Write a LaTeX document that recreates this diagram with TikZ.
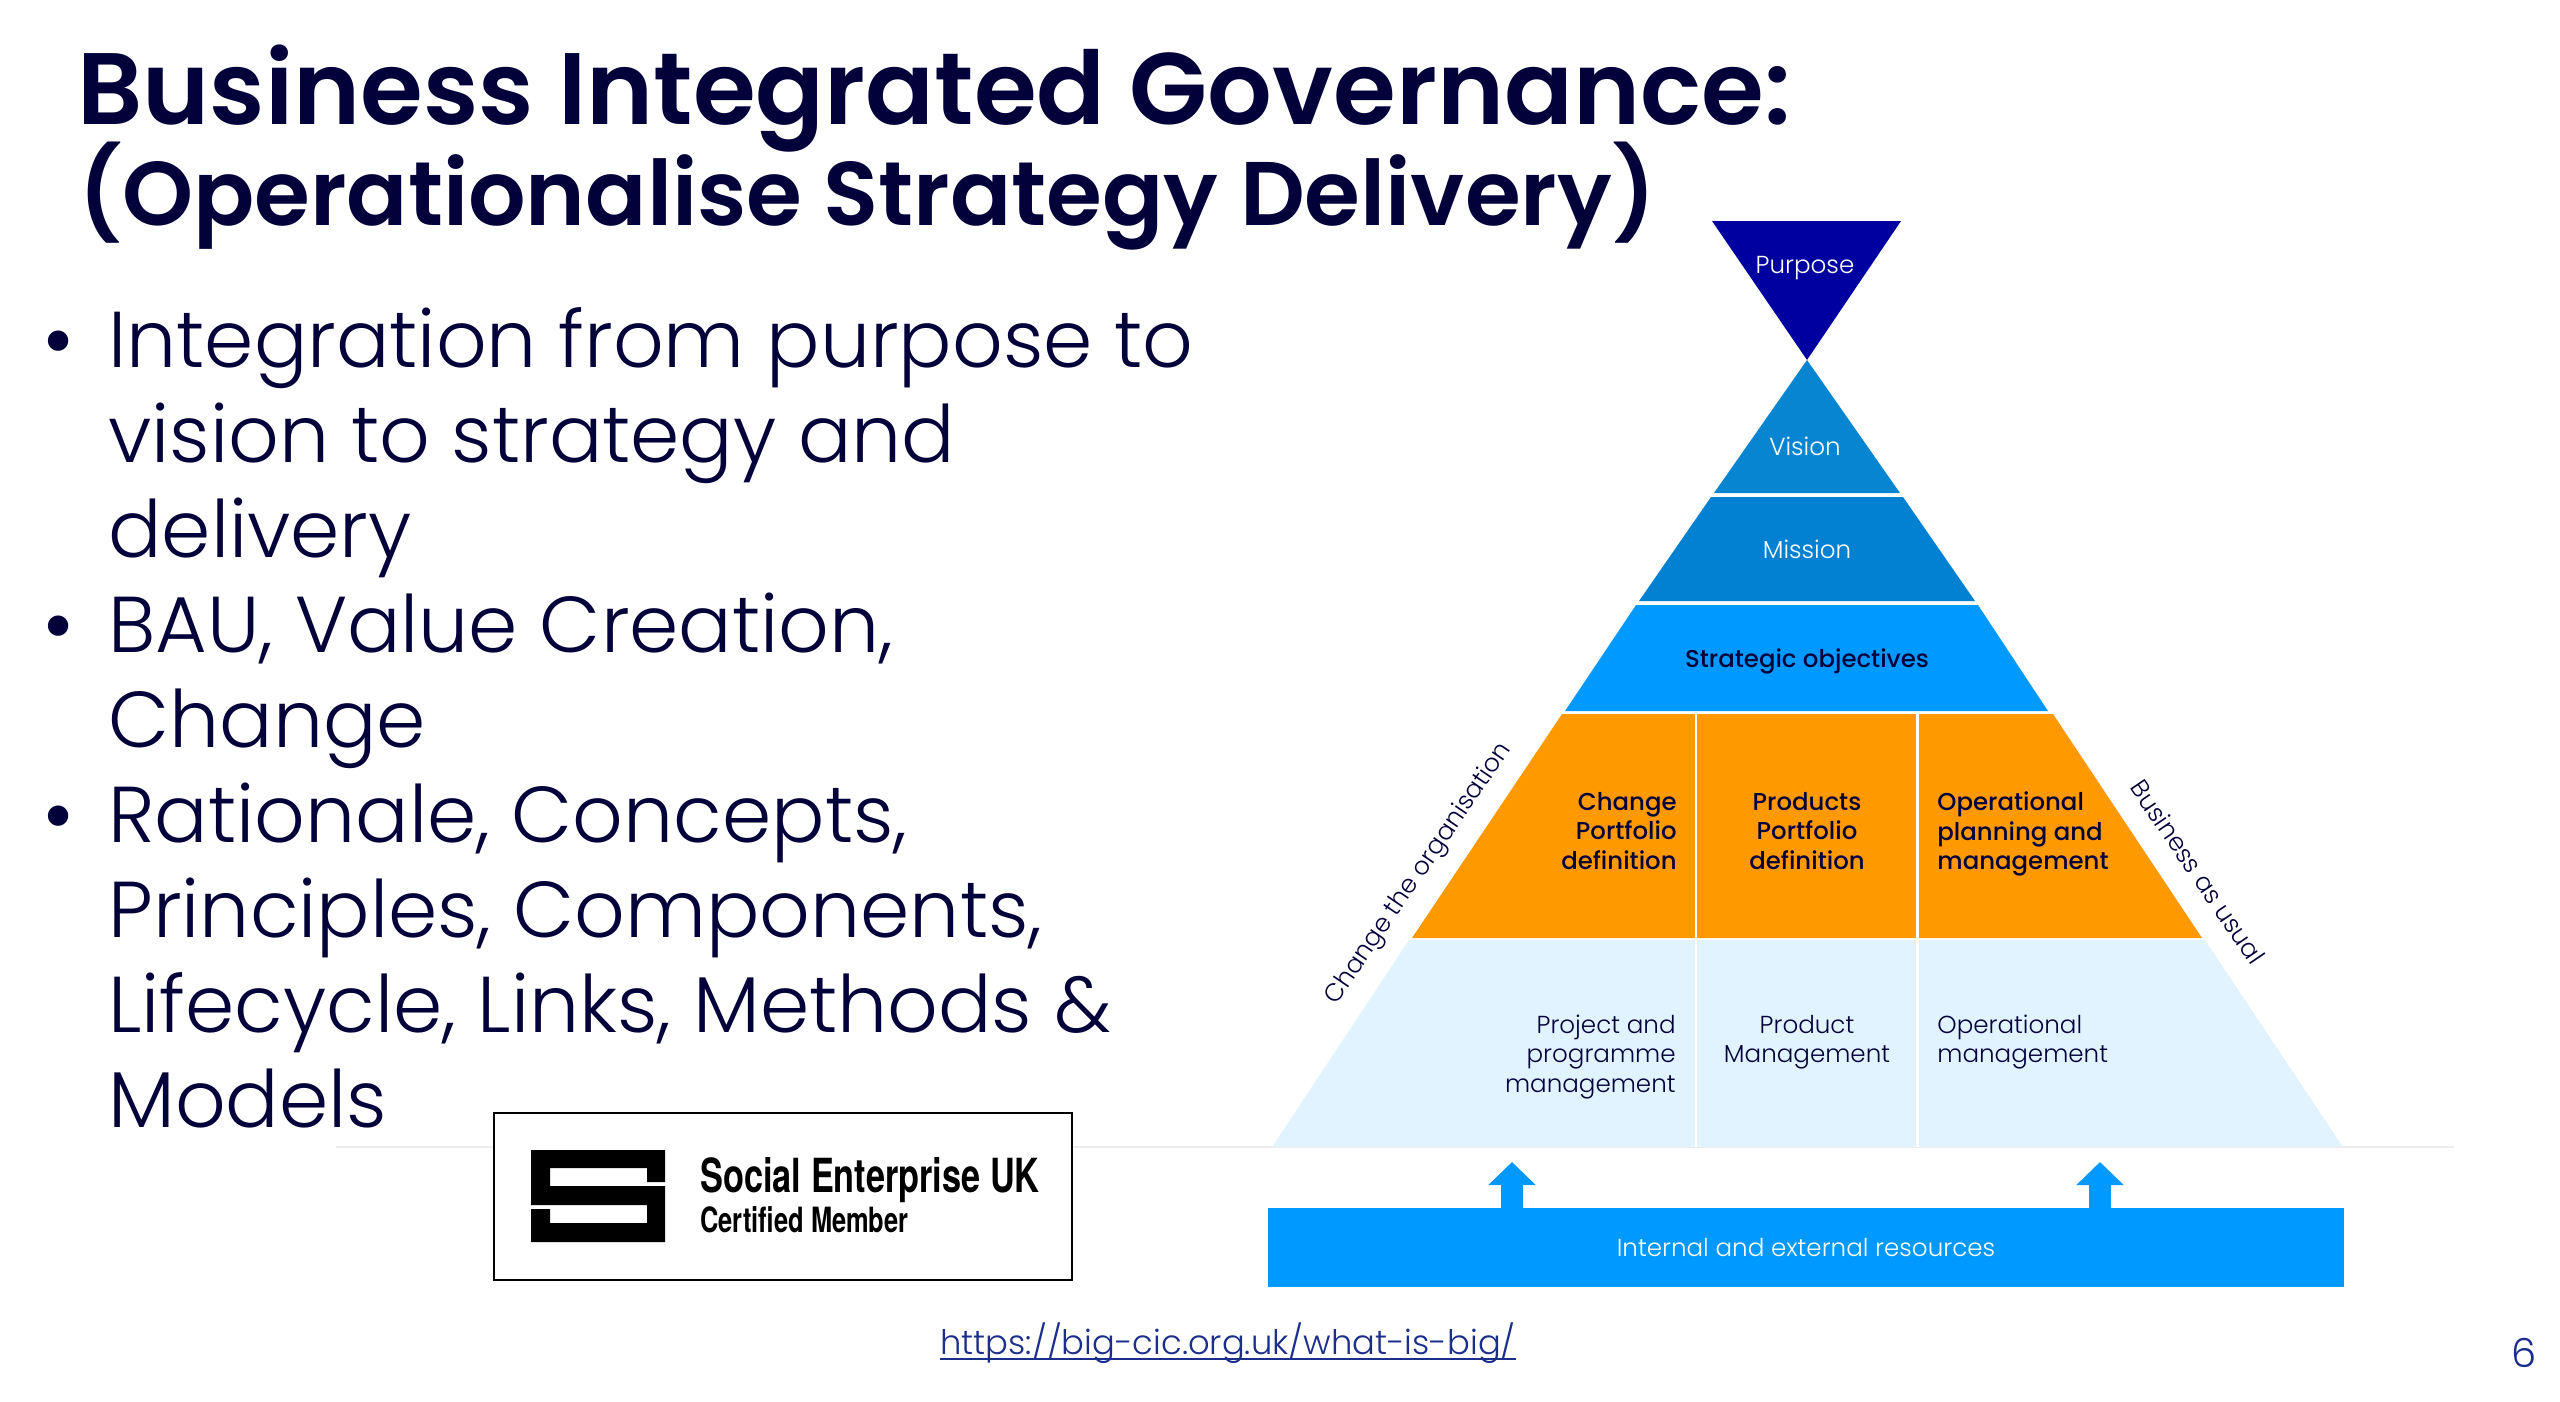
\documentclass[tikz,border=0pt]{standalone}
\usepackage{fontspec}
\usepackage{xcolor}
\usepackage{tikz}
\usetikzlibrary{arrows.meta, positioning, calc}
\setmainfont{Poppins}
\newfontfamily\lightfont{Poppins Light}
\newfontfamily\semifont{Poppins SemiBold}
\newfontfamily\medfont{Poppins Medium}
\newfontfamily\logofont[FakeStretch=0.73]{TeX Gyre Heros}
\definecolor{navy}{HTML}{03013A}
\definecolor{tierPurpose}{HTML}{0000A0}
\definecolor{tierVision}{HTML}{0785D0}
\definecolor{tierMission}{HTML}{0280D2}
\definecolor{tierBlue}{HTML}{0099FF}
\definecolor{tierOrange}{HTML}{FF9900}
\definecolor{tierPale}{HTML}{E0F3FF}
\definecolor{linkblue}{HTML}{1C2E8C}

\begin{document}
\begin{tikzpicture}[
    x=0.5pt, y=-0.5pt,
    every node/.style={inner sep=0pt, text=navy},
    heading/.style={anchor=base west, font=\semifont\fontsize{50.8}{51}\selectfont},
    subheading/.style={anchor=base west, font=\semifont\fontsize{45.2}{46}\selectfont},
    bodyline/.style={anchor=base west, font=\lightfont\fontsize{39.6}{39.6}\selectfont},
    bulletdot/.style={anchor=base west, font=\lightfont\fontsize{44}{44}\selectfont},
    tier/.style={align=center, font=\lightfont\fontsize{12.3}{14.75}\selectfont},
    orangetext/.style={font=\medfont\fontsize{12.2}{14.75}\selectfont},
    paletext/.style={font=\lightfont\fontsize{12.3}{14.75}\selectfont},
    sidetext/.style={font=\lightfont\fontsize{12.5}{14.75}\selectfont},
    divider/.style={white, line width=1.2pt},
    uparrow/.style={-{Triangle[length=11.5pt, width=23pt]}, tierBlue, line width=11pt}
]
\useasboundingbox (0,0) rectangle (2560,1402);

\node[heading] (title1) at (77,125) {Business Integrated Governance:};
\node[subheading] (title2) at (78,226) {(Operationalise Strategy Delivery)};

\node[bulletdot] (bul1) at (42,370) {•};
\node[bodyline] (l1) at (108,367) {Integration from purpose to};
\node[bodyline] (l2) at (108,462) {vision to strategy and};
\node[bodyline] (l3) at (108,557) {delivery};
\node[bulletdot] (bul2) at (42,655) {•};
\node[bodyline] (l4) at (108,652) {BAU, Value Creation,};
\node[bodyline] (l5) at (108,747) {Change};
\node[bulletdot] (bul3) at (42,845) {•};
\node[bodyline] (l6) at (108,842) {Rationale, Concepts,};
\node[bodyline] (l7) at (108,937) {Principles, Components,};
\node[bodyline] (l8) at (108,1032) {Lifecycle, Links, Methods \&};
\node[bodyline] (l9) at (108,1127) {Models};

\draw[black!7, line width=1pt] (336,1147) -- (2454,1147);

\fill[tierPurpose] (1712,221) -- (1901,221) -- (1807,360) -- cycle;
\fill[tierVision] (1807,360) -- (1714,493) -- (1900,493) -- cycle;
\fill[tierMission] (1711,497) -- (1903,497) -- (1975,601) -- (1639,601) -- cycle;
\fill[tierBlue] (1636,605) -- (1978,605) -- (2048,711) -- (1565,711) -- cycle;
\fill[tierOrange] (1562,714) -- (2053,714) -- (2202,938) -- (1412,938) -- cycle;
\fill[tierPale] (1409,940) -- (2205,940) -- (2343,1147) -- (1272,1147) -- cycle;
\draw[divider] (1696,714) -- (1696,1147);
\draw[divider] (1917.5,714) -- (1917.5,1147);

\node[tier, text=white] (purpose) at (1805,268) {Purpose};
\node[tier, text=white] (vision) at (1805,446) {Vision};
\node[tier, text=white] (mission) at (1807,549) {Mission};
\node[orangetext] (strategic) at (1807,661) {Strategic objectives};

\node[orangetext, align=right, anchor=east] (change) at (1677,831) {Change\\Portfolio\\definition};
\node[orangetext, align=center] (products) at (1807,831) {Products\\Portfolio\\definition};
\node[orangetext, align=left, anchor=west] (oper) at (1937,834) {Operational\\planning and\\management};

\node[paletext, align=right, anchor=east] (project) at (1676,1057) {Project and\\programme\\management};
\node[paletext, align=center] (prodman) at (1807,1042) {Product\\Management};
\node[paletext, align=left, anchor=west] (opman) at (1937,1042) {Operational\\management};

\node[sidetext, rotate=55.7] (sideL) at (1419,874) {Change the organisation};
\node[sidetext, rotate=-55.7] (sideR) at (2198,872) {Business as usual};

\node[fill=tierBlue, minimum width=538pt, minimum height=39.5pt, tier, text=white] (res) at (1806,1247.5) {Internal and external resources};
\coordinate (arrL) at (1512,1162);
\coordinate (arrR) at (2100,1162);
\draw[uparrow] (res.north -| arrL) -- (arrL);
\draw[uparrow] (res.north -| arrR) -- (arrR);

\node[draw=black, line width=1pt, fill=white, minimum width=289pt, minimum height=83.5pt] (logo) at (783,1196.5) {};
\fill[black] (531,1150) -- (665,1150) -- (665,1182) -- (647,1182) -- (647,1168) -- (550,1168) -- (550,1186)
    -- (665,1186) -- (665,1242) -- (531,1242) -- (531,1209) -- (550,1209) -- (550,1223) -- (647,1223)
    -- (647,1205) -- (531,1205) -- cycle;
\node[anchor=base west, text=black, font=\logofont\bfseries\fontsize{23.5}{23.5}\selectfont] (seuk) at (700,1192) {Social Enterprise UK};
\node[anchor=base west, text=black, font=\logofont\bfseries\fontsize{17.4}{17.4}\selectfont] (cert) at (700,1232) {Certified Member};

\node[anchor=base west, text=linkblue, font=\lightfont\fontsize{16.9}{17}\selectfont] (url) at (940,1354) {https://big-cic.org.uk/what-is-big/};
\draw[linkblue, line width=1pt] ($(url.base west)+(0,5)$) -- ($(url.base east)+(0,5)$);

\node[anchor=base, text=linkblue, font=\lightfont\fontsize{20}{20}\selectfont] (pagenum) at (2524,1367) {6};
\end{tikzpicture}
\end{document}
